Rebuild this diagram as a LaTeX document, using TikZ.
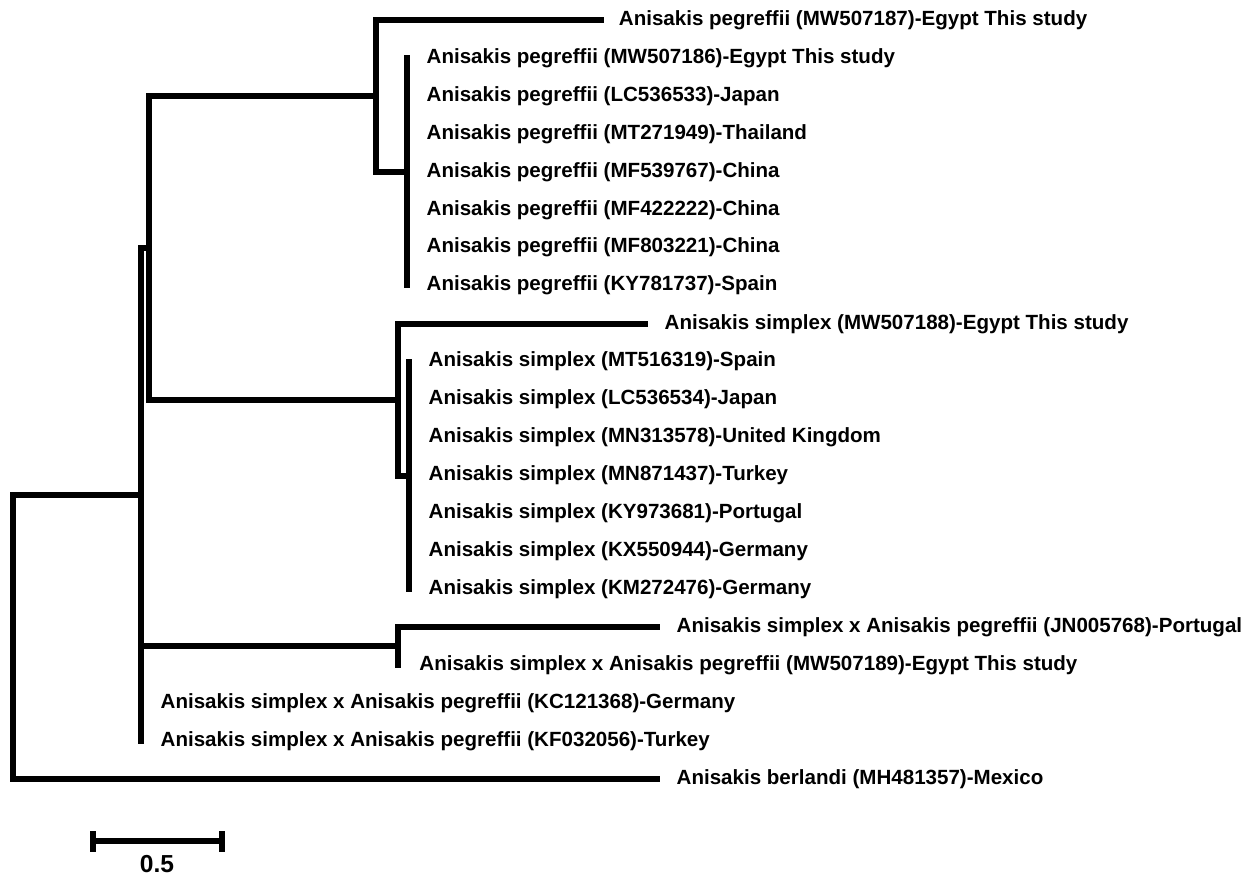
\documentclass[tikz,border=0pt]{standalone}
\usepackage{fontspec}
\setmainfont{Liberation Sans}
\usetikzlibrary{positioning}

\begin{document}
\begin{tikzpicture}[x=0.02cm, y=-0.02cm,
    branch/.style={line width=3.2pt, line cap=rect, line join=miter},
    taxon/.style={inner sep=0pt, font=\bfseries\fontsize{11.7}{13}\selectfont},
    scalebar/.style={line width=3.2pt},
    scalelabel/.style={inner sep=0pt, font=\bfseries\fontsize{14}{16}\selectfont}]
\useasboundingbox (0,0) rectangle (1258,880);

% internal nodes
\coordinate (root) at (13,495);
\coordinate (ingroup) at (141,495);
\coordinate (pegsim) at (149,248);
\coordinate (pegclade) at (376,96);
\coordinate (pegcore) at (407,172);
\coordinate (simclade) at (398,400);
\coordinate (simcore) at (409,476);
\coordinate (hybclade) at (398,646);

% tips
\coordinate (l0) at (601,20);
\foreach \i in {1,...,7} \coordinate (l\i) at (407,{20+37.95*\i});
\coordinate (l8) at (645,324);
\foreach \i in {9,...,15} \coordinate (l\i) at (409,{20+37.95*\i});
\coordinate (l16) at (657,627);
\coordinate (l17) at (398,665);
\coordinate (l18) at (141,703);
\coordinate (l19) at (141,741);
\coordinate (l20) at (657,779);

% branches
\draw[branch] (root) |- (ingroup);
\draw[branch] (root) |- (l20);
\draw[branch] (ingroup) |- (pegsim);
\draw[branch] (ingroup) |- (hybclade);
\draw[branch] (ingroup) -- (l19);
\draw[branch] (pegsim) |- (pegclade);
\draw[branch] (pegsim) |- (simclade);
\draw[branch] (pegclade) |- (l0);
\draw[branch] (pegclade) |- (pegcore);
\draw[branch] (l1) -- (l7);
\draw[branch] (simclade) |- (l8);
\draw[branch] (simclade) |- (simcore);
\draw[branch] (l9) -- (l15);
\draw[branch] (hybclade) |- (l16);
\draw[branch] (hybclade) -- (l17);

% taxa
\node[taxon, right=10pt of l0] (t0) {Anisakis pegreffii (MW507187)-Egypt This study};
\node[taxon, right=11pt of l1] (t1) {Anisakis pegreffii (MW507186)-Egypt This study};
\node[taxon, right=11pt of l2] (t2) {Anisakis pegreffii (LC536533)-Japan};
\node[taxon, right=11pt of l3] (t3) {Anisakis pegreffii (MT271949)-Thailand};
\node[taxon, right=11pt of l4] (t4) {Anisakis pegreffii (MF539767)-China};
\node[taxon, right=11pt of l5] (t5) {Anisakis pegreffii (MF422222)-China};
\node[taxon, right=11pt of l6] (t6) {Anisakis pegreffii (MF803221)-China};
\node[taxon, right=11pt of l7] (t7) {Anisakis pegreffii (KY781737)-Spain};
\node[taxon, right=11pt of l8] (t8) {Anisakis simplex (MW507188)-Egypt This study};
\node[taxon, right=11pt of l9] (t9) {Anisakis simplex (MT516319)-Spain};
\node[taxon, right=11pt of l10] (t10) {Anisakis simplex (LC536534)-Japan};
\node[taxon, right=11pt of l11] (t11) {Anisakis simplex (MN313578)-United Kingdom};
\node[taxon, right=11pt of l12] (t12) {Anisakis simplex (MN871437)-Turkey};
\node[taxon, right=11pt of l13] (t13) {Anisakis simplex (KY973681)-Portugal};
\node[taxon, right=11pt of l14] (t14) {Anisakis simplex (KX550944)-Germany};
\node[taxon, right=11pt of l15] (t15) {Anisakis simplex (KM272476)-Germany};
\node[taxon, right=11pt of l16] (t16) {Anisakis simplex x Anisakis pegreffii (JN005768)-Portugal};
\node[taxon, right=12pt of l17] (t17) {Anisakis simplex x Anisakis pegreffii (MW507189)-Egypt This study};
\node[taxon, right=11pt of l18] (t18) {Anisakis simplex x Anisakis pegreffii (KC121368)-Germany};
\node[taxon, right=11pt of l19] (t19) {Anisakis simplex x Anisakis pegreffii (KF032056)-Turkey};
\node[taxon, right=11pt of l20] (t20) {Anisakis berlandi (MH481357)-Mexico};

% scale bar
\coordinate (sbl) at (93,841);
\coordinate (sbr) at (222,841);
\coordinate (sblt) at (93,831);
\coordinate (sblb) at (93,852);
\coordinate (sbrt) at (222,831);
\coordinate (sbrb) at (222,852);
\draw[scalebar] (sbl) -- (sbr);
\draw[scalebar] (sblt) -- (sblb);
\draw[scalebar] (sbrt) -- (sbrb);
\node[scalelabel] (sblabel) at (157,864) {0.5};
\end{tikzpicture}
\end{document}
